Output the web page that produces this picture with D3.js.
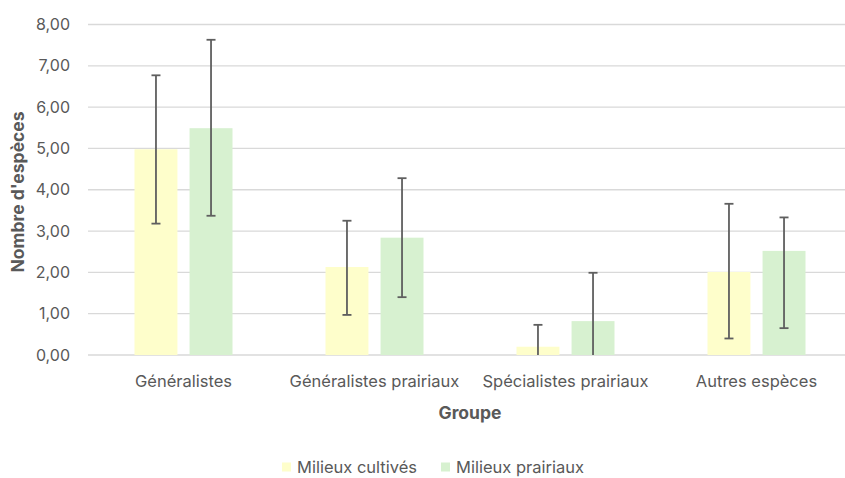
<!DOCTYPE html>
<html>
<head>
<meta charset="utf-8">
<script src="https://cdn.jsdelivr.net/npm/d3@7"></script>
<style>
  body { margin: 0; background: #fff; }
  svg { display: block; font-family: Inter, 'Noto Sans', sans-serif; }
</style>
</head>
<body>
<svg width="845" height="478"></svg>
<script>
(function () {
  const categories = ['Généralistes', 'Généralistes prairiaux', 'Spécialistes prairiaux', 'Autres espèces'];
  const seriesNames = ['Milieux cultivés', 'Milieux prairiaux'];
  const seriesColors = ['#FEFECB', '#D7F1D0'];
  const cultivesMean = [4.98, 2.13, 0.20, 2.01];
  const cultivesErrPlus = [1.79, 1.12, 0.53, 1.65];
  const cultivesErrMinus = [1.80, 1.16, 0.53, 1.61];
  const prairiauxMean = [5.49, 2.84, 0.82, 2.52];
  const prairiauxErrPlus = [2.14, 1.44, 1.17, 0.81];
  const prairiauxErrMinus = [2.12, 1.44, 1.17, 1.87];
  const yTicks = [0, 1, 2, 3, 4, 5, 6, 7, 8];

  const svg = d3.select('svg');
  const plot = { left: 88, right: 852, top: 24.5, bottom: 355 };

  const rows = [];
  categories.forEach((c, i) => {
    rows.push({ cat: c, series: seriesNames[0], mean: cultivesMean[i],
      hi: cultivesMean[i] + cultivesErrPlus[i], lo: cultivesMean[i] - cultivesErrMinus[i] });
    rows.push({ cat: c, series: seriesNames[1], mean: prairiauxMean[i],
      hi: prairiauxMean[i] + prairiauxErrPlus[i], lo: prairiauxMean[i] - prairiauxErrMinus[i] });
  });

  const x0 = d3.scaleBand().domain(categories).range([plot.left, plot.right]).padding(0);
  const x1 = d3.scaleBand().domain(seriesNames).range([46.5, 144.5]).paddingInner(0.22).paddingOuter(0);
  const y = d3.scaleLinear().domain([0, 8]).range([plot.bottom, plot.top]);
  const color = d3.scaleOrdinal().domain(seriesNames).range(seriesColors);

  // grid
  svg.append('g').selectAll('line').data(yTicks)
    .enter().append('line')
      .attr('x1', plot.left).attr('x2', plot.right)
      .attr('y1', d => y(d)).attr('y2', d => y(d))
      .attr('stroke', '#D9D9D9').attr('stroke-width', 1.3);

  // y tick labels
  const fmt = d => d.toFixed(2).replace('.', ',');
  svg.append('g').selectAll('text').data(yTicks)
    .enter().append('text')
      .attr('x', 70).attr('y', d => y(d))
      .attr('dy', '0.35em')
      .attr('text-anchor', 'end')
      .attr('fill', '#595959')
      .attr('font-size', 16)
      .text(fmt);

  // bars
  svg.append('g').selectAll('rect').data(rows)
    .enter().append('rect')
      .attr('x', d => x0(d.cat) + x1(d.series))
      .attr('y', d => y(d.mean))
      .attr('width', x1.bandwidth())
      .attr('height', d => y(0) - y(d.mean))
      .attr('fill', d => color(d.series));

  // error bars, clipped to plot area
  svg.append('clipPath').attr('id', 'plotclip')
    .append('rect').attr('x', plot.left).attr('y', 0)
      .attr('width', plot.right - plot.left).attr('height', plot.bottom);

  const eg = svg.append('g').attr('clip-path', 'url(#plotclip)')
    .selectAll('g').data(rows).enter().append('g')
      .attr('transform', d => `translate(${x0(d.cat) + x1(d.series) + x1.bandwidth() / 2},0)`)
      .attr('stroke', '#5F5F5F').attr('stroke-width', 1.8);
  eg.append('line')
    .attr('y1', d => y(d.hi)).attr('y2', d => y(d.lo));
  eg.append('line')
    .attr('x1', -4.5).attr('x2', 4.5)
    .attr('y1', d => y(d.hi)).attr('y2', d => y(d.hi));
  eg.filter(d => d.lo >= 0).append('line')
    .attr('x1', -4.5).attr('x2', 4.5)
    .attr('y1', d => y(d.lo)).attr('y2', d => y(d.lo));

  // category labels
  svg.append('g').selectAll('text').data(categories)
    .enter().append('text')
      .attr('x', d => x0(d) + x0.bandwidth() / 2)
      .attr('y', 381).attr('dy', '0.35em')
      .attr('text-anchor', 'middle')
      .attr('fill', '#595959')
      .attr('font-size', 16.5)
      .text(d => d);

  // axis titles
  svg.append('text')
    .attr('x', 470).attr('y', 413).attr('dy', '0.35em')
    .attr('text-anchor', 'middle')
    .attr('fill', '#595959').attr('font-weight', 'bold').attr('font-size', 17.5)
    .text('Groupe');

  svg.append('text')
    .attr('transform', 'translate(18,192) rotate(-90)')
    .attr('dy', '0.35em')
    .attr('text-anchor', 'middle')
    .attr('fill', '#595959').attr('font-weight', 'bold').attr('font-size', 17.5)
    .text("Nombre d'espèces");

  // legend
  const legendX = [282, 441];
  const lg = svg.append('g').selectAll('g').data(seriesNames)
    .enter().append('g')
      .attr('transform', (d, i) => `translate(${legendX[i]},467)`);
  lg.append('rect')
    .attr('x', 0).attr('y', -4.5).attr('width', 9).attr('height', 9)
    .attr('fill', d => color(d));
  lg.append('text')
    .attr('x', 15).attr('dy', '0.35em')
    .attr('fill', '#595959').attr('font-size', 16.5)
    .text(d => d);
})();
</script>
</body>
</html>
